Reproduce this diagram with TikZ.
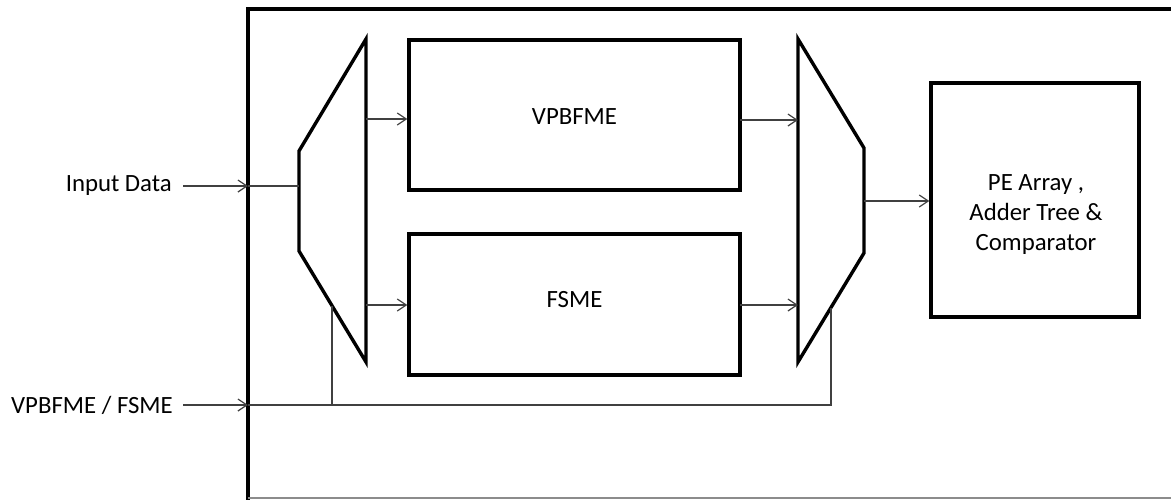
\documentclass[tikz,border=0pt]{standalone}
\usepackage{fontspec}
\setmainfont{Carlito}
\usetikzlibrary{arrows.meta,calc}
\begin{document}
\begin{tikzpicture}[x=1pt,y=-1pt,
  thickline/.style={line width=3.4pt,line join=miter,black},
  thinline/.style={line width=1.2pt,draw=black!75},
  arr/.style={thinline,-{Straight Barb[length=9pt,width=12pt,line width=1.2pt]}},
  lbl/.style={font=\fontsize{24.8}{30}\selectfont,inner sep=0pt},
  blk/.style={thickline,draw,fill=white,inner sep=0pt}]
\useasboundingbox (0,0) rectangle (1171,499);
% outer frame
\draw[thickline] (1200,9) -- (248,9) -- (248,520);
\draw[line width=1.5pt,draw=black!45] (248,498) -- (1200,498);
% blocks
\node[blk,minimum width=331pt,minimum height=150pt] (vp) at (574.5,115) {};
\node[lbl] (vpt) at (574.5,117) {VPBFME};
\node[blk,minimum width=331pt,minimum height=141pt] (fs) at (574.5,304.5) {};
\node[lbl] (fst) at (574.5,300) {FSME};
\node[blk,minimum width=208pt,minimum height=234pt] (pe) at (1035,200) {};
\node[lbl,align=center] (pet) at (1036,215) {PE Array ,\\Adder Tree \&\\Comparator};
% muxes
\coordinate (m1a) at (299,151);
\coordinate (m1b) at (366,39);
\coordinate (m1c) at (366,362);
\coordinate (m1d) at (299,251);
\draw[thickline] (m1a) -- (m1b) -- (m1c) -- (m1d) -- cycle;
\coordinate (m2a) at (798,39);
\coordinate (m2b) at (864,148);
\coordinate (m2c) at (864,253);
\coordinate (m2d) at (798,362);
\draw[thickline] (m2a) -- (m2b) -- (m2c) -- (m2d) -- cycle;
% labels
\node[lbl,anchor=east] (in) at (172,186) {Input Data};
\node[lbl,anchor=east] (sel) at (173,405) {VPBFME / FSME};
% input arrows
\coordinate (inS) at (183,186);
\coordinate (inE) at (248,186);
\draw[arr] (inS) -- (inE);
\draw[thinline] (inE) -- (inE -| m1a);
\coordinate (selS) at (183,405);
\coordinate (selE) at (248,405);
\draw[arr] (selS) -- (selE);
\coordinate (j1) at (332,405);
\coordinate (j2) at (831,405);
\draw[thinline] (selE) -- (j2) -- (831,307.5);
\draw[thinline] (j1) -- (332,305.7);
% mux1 -> blocks
\coordinate (o1) at (366,119);
\coordinate (o2) at (366,305);
\draw[arr] (o1) -- (o1 -| vp.west);
\draw[arr] (o2) -- (o2 -| fs.west);
% blocks -> mux2
\coordinate (i1) at (740,120);
\coordinate (i2) at (740,305);
\draw[arr] (i1) -- (i1 -| m2a);
\draw[arr] (i2) -- (i2 -| m2a);
% mux2 -> PE
\coordinate (o3) at (864,201);
\draw[arr] (o3) -- (o3 -| pe.west);
\end{tikzpicture}
\end{document}
